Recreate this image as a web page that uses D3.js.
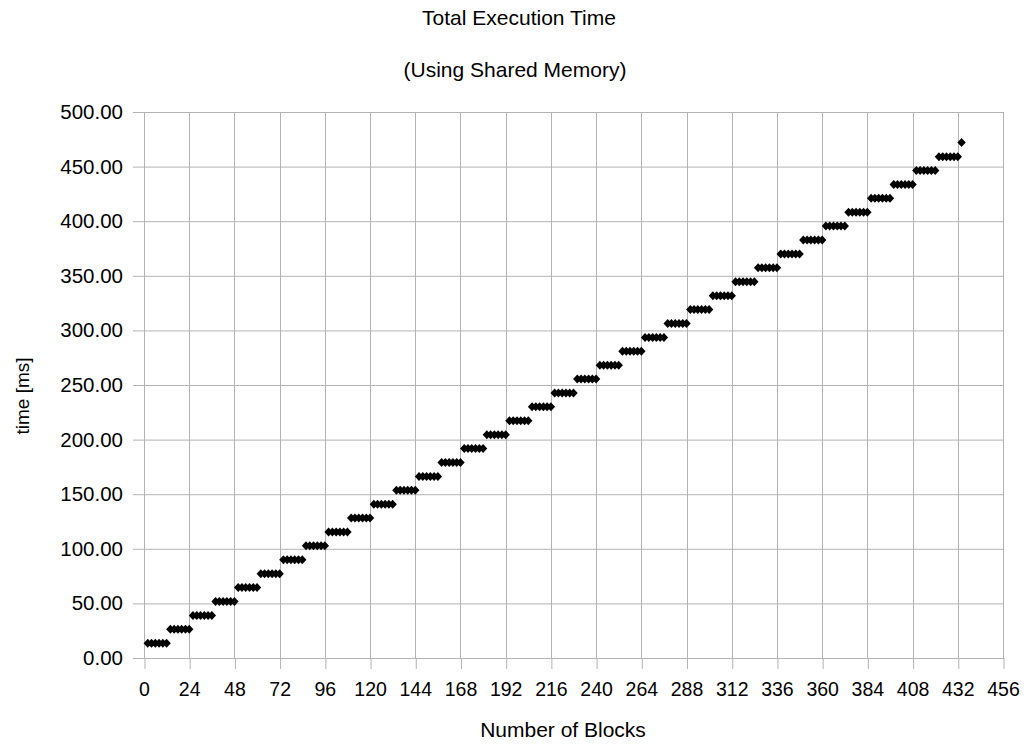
<!DOCTYPE html>
<html>
<head>
<meta charset="utf-8">
<script src="https://cdn.jsdelivr.net/npm/d3@7"></script>
<style>
  body { margin: 0; background: #fff; }
  text { font-family: "Liberation Sans", Arial, sans-serif; fill: #000; }
</style>
</head>
<body>
<div id="chart"></div>
<script>
// data ------------------------------------------------------------
// time level (ms) of each 12-block step
const stepLevels = [
  13.5, 26.3, 39.0, 51.7, 64.5, 77.2, 89.9, 102.7, 115.4, 128.1,
  140.8, 153.6, 166.3, 179.0, 191.8, 204.5, 217.2, 230.0, 242.7, 255.4,
  268.2, 280.9, 293.6, 306.4, 319.1, 331.8, 344.6, 357.3, 370.0, 382.8,
  395.5, 408.2, 421.0, 433.7, 446.4, 459.1, 472.0
];
const blocksPerStep = 12;
const blockStride = 2;          // measured every 2 blocks
const lastBlock = 434;
const xTicks = d3.range(0, 457, 24);
const yTicks = d3.range(0, 501, 50);

// points: blocks 2,4,...,434, each at the level of its step
const points = [];
for (let b = blockStride; b <= lastBlock; b += blockStride) {
  points.push({ blocks: b, time: stepLevels[Math.ceil(b / blocksPerStep) - 1] });
}

// 1- set up the chart ---------------------------------------------
const svgWidth = 1027;
const svgHeight = 744;
const margin = { top: 112, right: 24, bottom: 86, left: 144 };
const width = svgWidth - margin.left - margin.right;
const height = svgHeight - margin.top - margin.bottom;

const svg = d3.select("#chart")
  .append("svg")
  .attr("width", svgWidth)
  .attr("height", svgHeight);

const chartGroup = svg.append("g")
  .attr("transform", `translate(${margin.left},${margin.top})`);

const x = d3.scaleLinear().domain([0, 456]).range([0, width]);
const y = d3.scaleLinear().domain([0, 500]).range([height, 0]);

const gridColor = "#b3b3b3";

// grid lines
chartGroup.append("g")
  .selectAll("line.hgrid")
  .data(yTicks)
  .enter()
  .append("line")
  .attr("x1", 0).attr("x2", width)
  .attr("y1", d => y(d) + 0.5).attr("y2", d => y(d) + 0.5)
  .attr("stroke", gridColor);

chartGroup.append("g")
  .selectAll("line.vgrid")
  .data(xTicks)
  .enter()
  .append("line")
  .attr("x1", d => Math.round(x(d)) + 0.5).attr("x2", d => Math.round(x(d)) + 0.5)
  .attr("y1", 0).attr("y2", height)
  .attr("stroke", gridColor);

// axes
const xAxis = chartGroup.append("g")
  .attr("transform", `translate(0,${height})`)
  .call(d3.axisBottom(x).tickValues(xTicks).tickSize(11).tickPadding(13)
    .tickFormat(d3.format("d")));

const yAxis = chartGroup.append("g")
  .call(d3.axisLeft(y).tickValues(yTicks).tickSize(11).tickPadding(10)
    .tickFormat(d3.format(".2f")));

[xAxis, yAxis].forEach(a => {
  a.select(".domain").remove();
  a.selectAll("line").attr("stroke", gridColor);
  a.selectAll("text").attr("fill", "#000")
    .attr("font-family", "Liberation Sans, Arial, sans-serif");
});
xAxis.selectAll("text").attr("font-size", "19.5px");
yAxis.selectAll("text").attr("font-size", "20.5px");
xAxis.selectAll("line").attr("transform", "translate(0.5,0)");

// plot border
chartGroup.append("rect")
  .attr("x", 0.5).attr("y", 0.5)
  .attr("width", width).attr("height", height)
  .attr("fill", "none")
  .attr("stroke", gridColor);

// points (diamonds)
chartGroup.append("g")
  .selectAll("path")
  .data(points)
  .enter()
  .append("path")
  .attr("transform", d => `translate(${x(d.blocks)},${y(d.time)})`)
  .attr("d", "M0,-4.5L4.2,0L0,4.5L-4.2,0Z")
  .attr("fill", "#000");

// titles
svg.append("text")
  .attr("x", 519).attr("y", 25)
  .attr("text-anchor", "middle")
  .attr("font-size", "21px")
  .text("Total Execution Time");

svg.append("text")
  .attr("x", 515).attr("y", 77)
  .attr("text-anchor", "middle")
  .attr("font-size", "21px")
  .text("(Using Shared Memory)");

svg.append("text")
  .attr("x", 563).attr("y", 737)
  .attr("text-anchor", "middle")
  .attr("font-size", "21px")
  .text("Number of Blocks");

svg.append("text")
  .attr("transform", "translate(29,396) rotate(-90)")
  .attr("text-anchor", "middle")
  .attr("font-size", "19px")
  .text("time [ms]");
</script>
</body>
</html>
